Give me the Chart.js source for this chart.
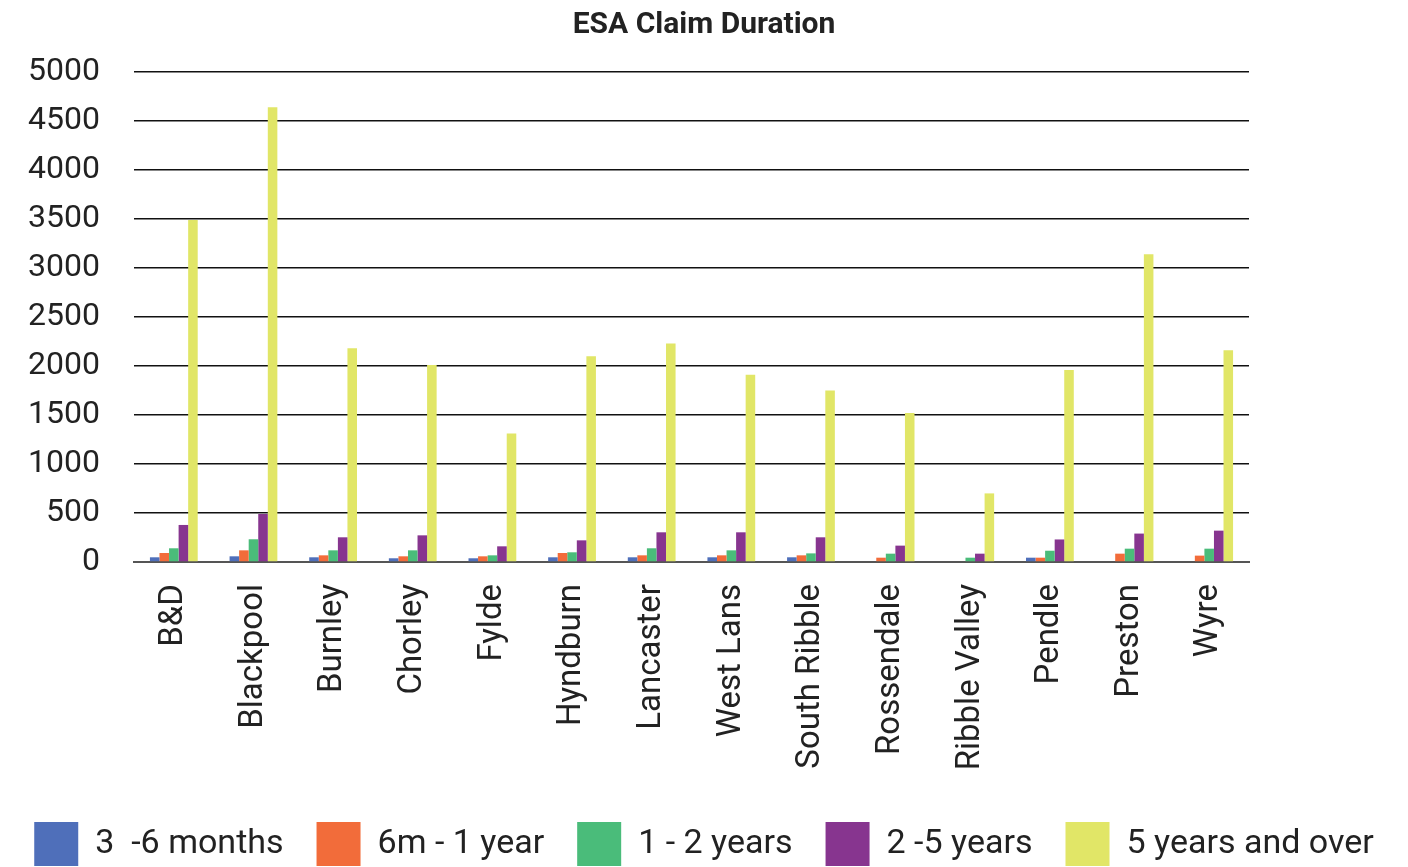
<!DOCTYPE html>
<html><head><meta charset="utf-8">
<script src="https://cdn.jsdelivr.net/npm/chart.js@4.4.1/dist/chart.umd.min.js"></script>
<style>html,body{margin:0;padding:0;overflow:hidden;background:#fff}#wrap{width:1408px;height:876px;position:relative}</style>
</head><body><div id="wrap"><canvas id="c"></canvas></div>
<script>
const categories = ["B&D","Blackpool","Burnley","Chorley","Fylde","Hyndburn","Lancaster","West Lans","South Ribble","Rossendale","Ribble Valley","Pendle","Preston","Wyre"];
const seriesNames = ["3  -6 months","6m - 1 year","1 - 2 years","2 -5 years","5 years and over"];
const m3to6   = [48,58,48,38,38,48,48,48,48,0,0,44,0,0];
const m6to12  = [92,119,68,58,58,92,68,68,68,44,0,44,85,65];
const y1to2   = [140,232,119,119,68,99,140,119,88,85,44,115,136,136];
const y2to5   = [378,490,252,272,160,221,303,303,252,167,85,230,290,320];
const y5plus  = [3490,4640,2180,2010,1310,2100,2230,1910,1750,1520,700,1960,3140,2160];
const yTicks  = [0,500,1000,1500,2000,2500,3000,3500,4000,4500,5000];
const colors = ["#4F6FBA","#F26C3A","#4ABC7A","#87358F","#E1E667"];
const values = [m3to6,m6to12,y1to2,y2to5,y5plus];

new Chart(document.getElementById('c'), {
  type: 'bar',
  data: {
    labels: categories,
    datasets: values.map((v,i)=>({label: seriesNames[i], data: v, backgroundColor: colors[i], borderWidth: 0, barPercentage: 1, categoryPercentage: 0.6}))
  },
  options: {
    responsive: true, maintainAspectRatio: false, animation: false,
    layout: {padding: {left: 0, right: 0, top: 0, bottom: 0}},
    plugins: {
      title: {display: true, text: 'ESA Claim Duration', color: '#222', font: {family: 'Roboto', size: 30, weight: 'bold'}, padding: {top: 7, bottom: 29}},
      legend: {position: 'bottom', labels: {boxWidth: 44, boxHeight: 44, padding: 33, color: '#222', font: {family: 'Roboto', size: 34}}},
      tooltip: {enabled: false}
    },
    scales: {
      x: {
        grid: {display: false},
        border: {display: true, color: '#555', width: 2},
        afterFit: (ax)=>{ ax.height = 227; },
        ticks: {minRotation: 90, maxRotation: 90, autoSkip: false, color: '#222', font: {family: 'Roboto', size: 33}, padding: 14}
      },
      y: {
        min: 0, max: 5000,
        afterBuildTicks: (ax)=>{ ax.ticks = yTicks.map(v=>({value: v})); },
        afterFit: (ax)=>{ ax.width = 134; },
        grid: {color: '#111', lineWidth: 1.5, drawTicks: false},
        border: {display: false},
        ticks: {color: '#222', font: {family: 'Roboto', size: 32}, padding: 34, callback: (v)=>String(v)}
      },
      yr: {
        position: 'right', min: 0, max: 5000,
        afterFit: (ax)=>{ ax.width = 159; },
        grid: {display: false}, border: {display: false},
        ticks: {display: false}
      }
    }
  }
});
</script></body></html>
